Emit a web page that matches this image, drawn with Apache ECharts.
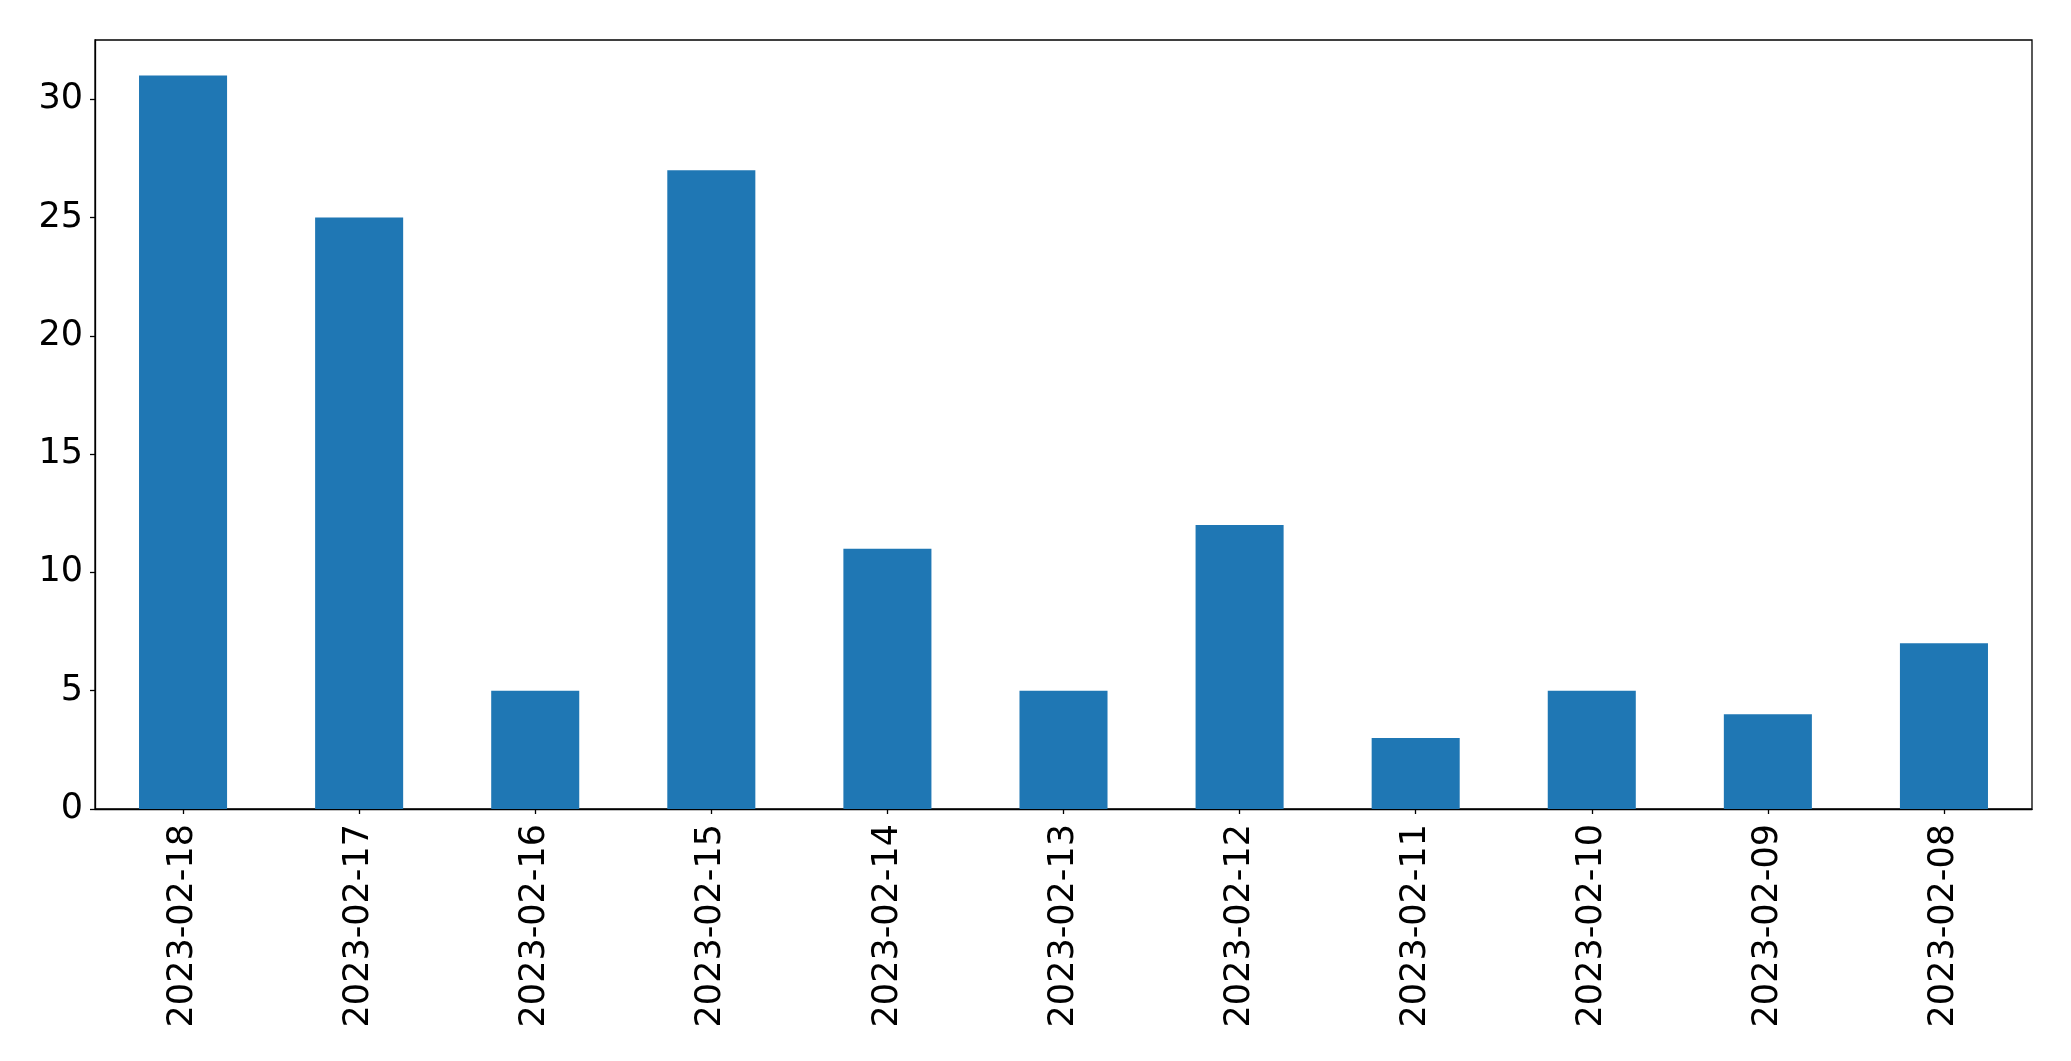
<!DOCTYPE html>
<html>
<head>
<meta charset="utf-8">
<script src="https://cdn.jsdelivr.net/npm/echarts@6/dist/echarts.min.js"></script>
<style>
html,body{margin:0;padding:0;background:#fff;}
#main{width:2071px;height:1061px;}
</style>
</head>
<body>
<div id="main"></div>
<script>
const categories = ["2023-02-18","2023-02-17","2023-02-16","2023-02-15","2023-02-14","2023-02-13","2023-02-12","2023-02-11","2023-02-10","2023-02-09","2023-02-08"];
const values = [31, 25, 5, 27, 11, 5, 12, 3, 5, 4, 7];
const yTicks = [0, 5, 10, 15, 20, 25, 30];

const chart = echarts.init(document.getElementById('main'), null, {renderer: 'canvas'});
const font = 'DejaVu Sans';
chart.setOption({
  animation: false,
  backgroundColor: '#fff',
  grid: {left: 95, right: 39, top: 40, bottom: 252, show: true, borderColor: '#000', borderWidth: 1.3, backgroundColor: 'transparent'},
  xAxis: {
    type: 'category',
    data: categories,
    axisLine: {show: true, lineStyle: {color: '#000', width: 1.3}},
    axisTick: {show: true, alignWithLabel: true, length: 5, lineStyle: {color: '#000', width: 1.3}},
    axisLabel: {rotate: 90, margin: 15, color: '#000', fontSize: 35, fontFamily: font, interval: 0},
    splitLine: {show: false}
  },
  yAxis: {
    type: 'value',
    min: 0,
    max: 32.5,
    interval: 5,
    axisLine: {show: true, lineStyle: {color: '#000', width: 1.3}},
    axisTick: {show: true, length: 5, customValues: yTicks, lineStyle: {color: '#000', width: 1.3}},
    axisLabel: {margin: 12, color: '#000', fontSize: 35, fontFamily: font, customValues: yTicks},
    splitLine: {show: false}
  },
  series: [{
    type: 'bar',
    data: values,
    barWidth: '50%',
    itemStyle: {color: '#1f77b4'}
  }]
});
</script>
</body>
</html>
